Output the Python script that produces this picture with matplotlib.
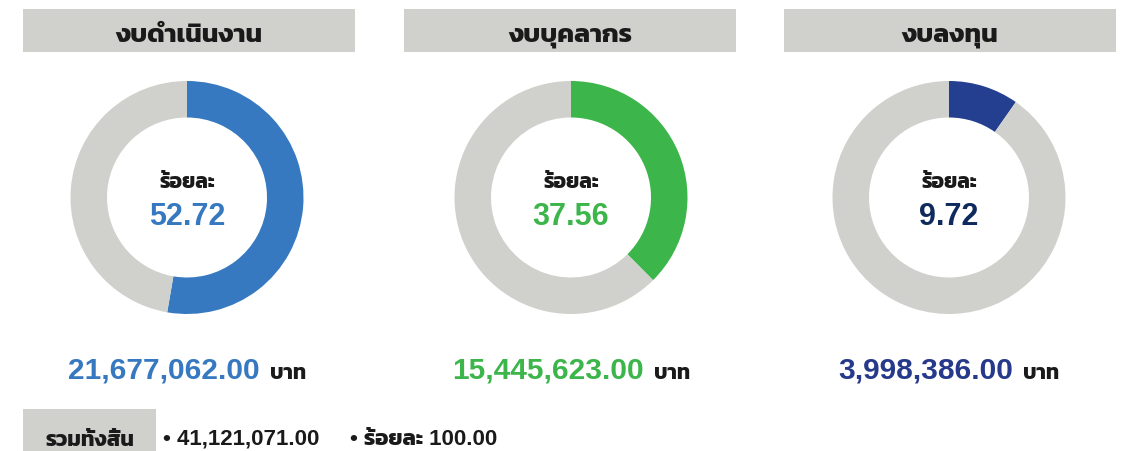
import matplotlib
matplotlib.use("Agg")
from matplotlib import pyplot as plt
from matplotlib.patches import Rectangle

# data
titles = ["งบดำเนินงาน", "งบบุคลากร", "งบลงทุน"]
percents = [52.72, 37.56, 9.72]
amounts = ["21,677,062.00", "15,445,623.00", "3,998,386.00"]
ring_colors = ["#3679c0", "#3cb54a", "#243f8f"]
pct_colors = ["#3679c0", "#3cb54a", "#0f2a5c"]
amount_colors = ["#3679c0", "#3cb54a", "#26398b"]
total_label = "รวมทั้งสิ้น"
total_amount = "41,121,071.00"
total_pct = "100.00"

grey = "#d0d0cc"
ink = "#1a1a1a"
# latin digits from Liberation Sans, thai glyphs fall back to Kanit
plt.rcParams["font.family"] = ["Liberation Sans", "Kanit", "DejaVu Sans"]
thai = ["Kanit", "DejaVu Sans"]

W, H = 1126, 452
fig = plt.figure(figsize=(W / 100, H / 100), dpi=100)
ax = fig.add_axes([0, 0, 1, 1])

centers = [187, 571, 949]
box_left = [23, 404, 784]
cy = H - 198.5
r_out = 116.5
ring = 36.5

for i in range(3):
    cx = centers[i]
    # header
    ax.add_patch(Rectangle((box_left[i], H - 53), 332, 43, color=grey, lw=0))
    ax.text(box_left[i] + 166, H - 42, titles[i], ha="center", va="baseline",
            fontsize=19, fontweight="bold", color=ink, family=thai)
    # donut
    ax.pie([percents[i], 100 - percents[i]], colors=[ring_colors[i], grey],
           startangle=90, counterclock=False, center=(cx, cy), radius=r_out,
           wedgeprops=dict(width=ring, linewidth=0), frame=True)
    ax.text(cx, H - 188, "ร้อยละ", ha="center", va="baseline", fontsize=15,
            fontweight="bold", color=ink, family=thai)
    ax.text(cx, H - 225, "%.2f" % percents[i], ha="center", va="baseline",
            fontsize=22, fontweight="bold", color=pct_colors[i])

fig.canvas.draw()
r = fig.canvas.get_renderer()
for i in range(3):
    cx = centers[i]
    t1 = ax.text(0, H - 379, amounts[i], ha="left", va="baseline", fontsize=21.5,
                 fontweight="bold", color=amount_colors[i])
    t2 = ax.text(0, H - 379, "บาท", ha="left", va="baseline", fontsize=15,
                 fontweight="bold", color=ink, family=thai)
    w1 = t1.get_window_extent(r).width
    w2 = t2.get_window_extent(r).width
    gap = 10
    x0 = cx - (w1 + gap + w2) / 2
    t1.set_x(x0)
    t2.set_x(x0 + w1 + gap)

# total row
ax.add_patch(Rectangle((23, 0), 133, 42, color=grey, lw=0))
ax.text(89.5, 6, total_label, ha="center", va="baseline", fontsize=15.5,
        fontweight="bold", color=ink, family=thai)
ax.text(163, 7, "• " + total_amount, ha="left", va="baseline", fontsize=16,
        fontweight="bold", color=ink)
ax.text(350, 7, "• ร้อยละ " + total_pct, ha="left", va="baseline", fontsize=16,
        fontweight="bold", color=ink)

ax.set_xlim(0, W)
ax.set_ylim(0, H)
ax.set_aspect("auto")
ax.axis("off")
fig.savefig("out.png", dpi=100)
